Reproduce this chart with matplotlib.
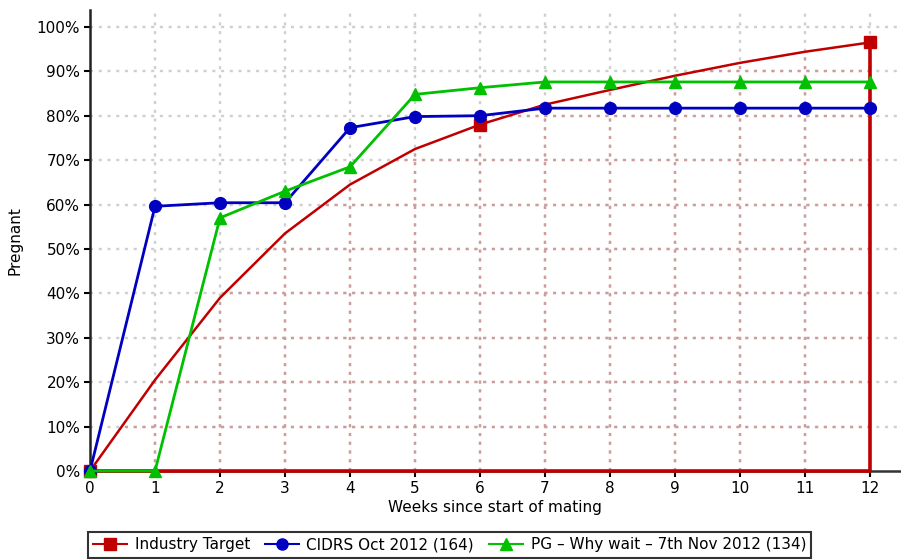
import numpy as np
import matplotlib
matplotlib.use("Agg")
import matplotlib.pyplot as plt
from matplotlib.patches import Polygon

weeks = [0, 1, 2, 3, 4, 5, 6, 7, 8, 9, 10, 11, 12]
industry_target = [0, 20.5, 39, 53.5, 64.5, 72.5, 78, 82.5, 85.8, 89, 91.9, 94.4, 96.5]
cidrs_oct_2012 = [0, 59.6, 60.4, 60.4, 77.3, 79.8, 80.0, 81.7, 81.7, 81.7, 81.7, 81.7, 81.7]
pg_why_wait = [0, 0, 57, 63, 68.5, 84.8, 86.3, 87.6, 87.6, 87.6, 87.6, 87.6, 87.6]
labels = ["Industry Target", "CIDRS Oct 2012 (164)", "PG \u2013 Why wait \u2013 7th Nov 2012 (134)"]

RED = "#c00000"
BLUE = "#0000c0"
GREEN = "#00c000"

plt.rcParams["font.family"] = "DejaVu Sans"
plt.rcParams["font.size"] = 11

fig = plt.figure(figsize=(9.01, 5.6), dpi=100)
ax = fig.add_axes([90 / 901, 1 - 471 / 560, 810 / 901, 461 / 560])

xmax = 12.46
ax.set_xlim(0, xmax)
ax.set_ylim(0, 103.8)

xt = np.arange(0, 13)
yt = np.arange(0, 101, 10)

# grey dotted grid, plus a pinkish version inside the target area
dots = (0, (1.3, 2.4))
ax.hlines(yt[1:], 0, xmax, colors="#cfcfcf", linestyles=dots, lw=1.7, zorder=1)
ax.vlines(xt[1:], 0, 103.8, colors="#cfcfcf", linestyles=dots, lw=1.7, zorder=1)

poly_x = weeks + [weeks[-1], weeks[0]]
poly_y = industry_target + [0, 0]
clip = Polygon(np.column_stack([poly_x, poly_y]), closed=True, transform=ax.transData,
               facecolor="none", edgecolor="none")
ax.add_patch(clip)
h = ax.hlines(yt[1:], 0, xmax, colors="#cf9b9b", linestyles=dots, lw=1.7, zorder=2)
v = ax.vlines(xt[1:], 0, 103.8, colors="#cf9b9b", linestyles=dots, lw=1.7, zorder=2)
h.set_clip_path(clip)
v.set_clip_path(clip)

# industry target outline
ax.plot([weeks[-1], weeks[-1], weeks[0]], [industry_target[-1], 0, 0],
        color=RED, lw=2.6, zorder=3, clip_on=False)
ax.plot(weeks, industry_target, color=RED, lw=1.8, marker="s", ms=8,
        markevery=[0, 6, 12], zorder=4, clip_on=False)
ax.plot(weeks, cidrs_oct_2012, color=BLUE, lw=2, marker="o", ms=8.5, zorder=5, clip_on=False)
ax.plot(weeks, pg_why_wait, color=GREEN, lw=2, marker="^", ms=9, zorder=6, clip_on=False)

ax.set_xticks(xt)
ax.set_yticks(yt)
ax.set_yticklabels([f"{v}%" for v in yt])
ax.tick_params(direction="out", length=4, width=1.5, color="black", pad=3)
ax.set_xlabel("Weeks since start of mating", labelpad=3)
ax.set_ylabel("Pregnant", labelpad=10)

for s in ["top", "right"]:
    ax.spines[s].set_visible(False)
ax.spines["left"].set_color("#222222")
ax.spines["left"].set_linewidth(1.8)
ax.spines["bottom"].set_color("#333333")
ax.spines["bottom"].set_linewidth(1.8)

handles = [
    plt.Line2D([], [], color=RED, lw=1.5, marker="s", ms=8),
    plt.Line2D([], [], color=BLUE, lw=1.5, marker="o", ms=8),
    plt.Line2D([], [], color=GREEN, lw=1.5, marker="^", ms=9),
]
leg = fig.legend(handles, labels, loc="upper left", bbox_to_anchor=(88 / 901, 1 - 532 / 560),
                 ncol=3, frameon=True, fancybox=False, edgecolor="black",
                 handlelength=2.2, handletextpad=0.5, columnspacing=1.0,
                 borderpad=0.35, borderaxespad=0)
leg.get_frame().set_linewidth(1.5)

fig.savefig("out.png", dpi=100)
